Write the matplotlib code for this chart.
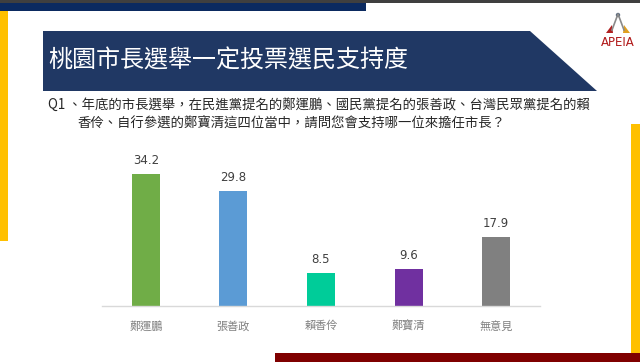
import matplotlib
matplotlib.use("Agg")
import matplotlib.pyplot as plt
from matplotlib.patches import Polygon, Rectangle, Circle

plt.rcParams['font.family'] = ['Noto Sans CJK TC', 'DejaVu Sans']

candidates = ['鄭運鵬', '張善政', '賴香伶', '鄭寶清', '無意見']
support = [34.2, 29.8, 8.5, 9.6, 17.9]
bar_colors = ['#70AD47', '#5B9BD5', '#00CC99', '#7030A0', '#808080']

title = '桃園市長選舉一定投票選民支持度'
question_1 = 'Q1 、年底的市長選舉，在民進黨提名的鄭運鵬、國民黨提名的張善政、台灣民眾黨提名的賴'
question_2 = '香伶、自行參選的鄭寶清這四位當中，請問您會支持哪一位來擔任市長？'

W, H = 640, 362
fig = plt.figure(figsize=(W / 100, H / 100), dpi=100)

# background / decoration layer in pixel coords
bg = fig.add_axes([0, 0, 1, 1])
bg.set_xlim(0, W)
bg.set_ylim(H, 0)
bg.axis('off')

bg.add_patch(Rectangle((0, 0), W, 2.5, color='#3f3f3f', lw=0))
bg.add_patch(Rectangle((0, 2.5), 366, 8.5, color='#0b2a60', lw=0))
bg.add_patch(Rectangle((0, 11), 8, 230, color='#FFC000', lw=0))
bg.add_patch(Rectangle((631, 124), 9, 233, color='#FFC000', lw=0))
bg.add_patch(Rectangle((275, 353), 365, 9, color='#7f0000', lw=0))
bg.add_patch(Polygon([(43, 31), (530, 31), (597, 91), (43, 91)],
                     closed=True, color='#203864', lw=0))
bg.text(48, 61, title, color='white', fontsize=17.3, va='center', ha='left')

bg.text(48, 105, question_1, color='#262626', fontsize=9.6, va='center', ha='left')
bg.text(77, 123, question_2, color='#262626', fontsize=9.6, va='center', ha='left')

# logo
bg.plot([612, 618, 624], [30, 14, 30], color='#8a8a8a', lw=1.2)
bg.add_patch(Circle((618, 15), 2.2, color='#5a6a80', lw=0))
bg.add_patch(Polygon([(606, 33), (612, 25), (613, 33)], color='#b02020', lw=0))
bg.add_patch(Polygon([(623, 33), (624, 25), (630, 33)], color='#e0a020', lw=0))
bg.text(618, 43, 'APEIA', color='#b01818', fontsize=8.5, ha='center', va='center',
        family=['DejaVu Sans'])

# bar chart
ax = fig.add_axes([102 / W, (H - 305.7) / H, 438 / W, 153.6 / H])
x = range(len(candidates))
ax.bar(x, support, width=0.32, color=bar_colors)
ax.set_xlim(-0.5, len(candidates) - 0.5)
ax.set_ylim(0, 40)
for s in ['top', 'right', 'left']:
    ax.spines[s].set_visible(False)
ax.spines['bottom'].set_color('#d9d9d9')
ax.spines['bottom'].set_linewidth(1)
ax.set_yticks([])
ax.set_xticks(list(x))
ax.set_xticklabels(candidates, color='#7f7f7f', fontsize=8)
ax.tick_params(axis='x', length=0, pad=11)
ax.patch.set_alpha(0)
for i, v in enumerate(support):
    ax.annotate(f'{v}', (i, v), xytext=(0, 5), textcoords='offset points',
                ha='center', va='bottom', fontsize=8.5, color='#404040',
                family=['DejaVu Sans'])

fig.savefig('out.png', dpi=100)
